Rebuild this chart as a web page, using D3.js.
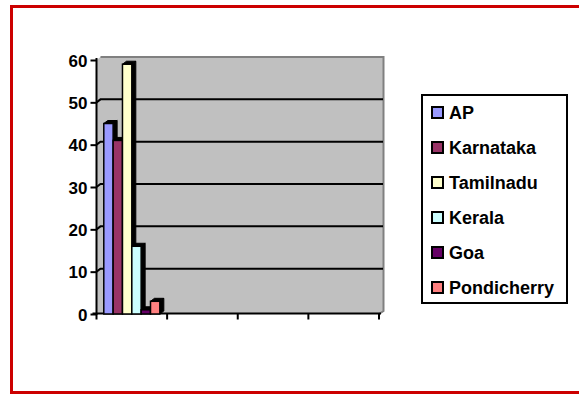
<!DOCTYPE html>
<html>
<head>
<meta charset="utf-8">
<script src="https://cdn.jsdelivr.net/npm/d3@7"></script>
<style>
  html, body { margin: 0; padding: 0; background: #fff; }
  svg { display: block; }
  text { font-family: "Liberation Sans", Arial, sans-serif; font-weight: bold; fill: #000; }
</style>
</head>
<body>
<svg id="chart" width="579" height="394"></svg>
<script>
// Category slots along the x axis (no labels are shown on this axis)
const categories = [1, 2, 3, 4];
// One value per state, all in the first category slot
const series = ["AP", "Karnataka", "Tamilnadu", "Kerala", "Goa", "Pondicherry"];
const values = [45, 41, 59, 16, 1, 3];
const yTicks = [0, 10, 20, 30, 40, 50, 60];
const colors = ["#9999FF", "#993366", "#FFFFCC", "#CCFFFF", "#660066", "#FF8080"];

const svg = d3.select("#chart");
const W = 579, H = 394;

// frame
svg.append("rect")
  .attr("x", 11.5).attr("y", 6.5)
  .attr("width", 600).attr("height", 386)
  .attr("fill", "#fff").attr("stroke", "#CC0000").attr("stroke-width", 3);

// plot geometry (front plane) and 3D depth offset
const x0 = 96.5, x1 = 379, yTop = 60, yBase = 314;
const dx = 4, dy = -3;

const y = d3.scaleLinear().domain([0, 60]).range([yBase, yTop]);
const xCat = d3.scaleBand().domain(categories).range([x0, x1]).padding(0);
const xSer = d3.scaleBand().domain(series).range([0, xCat.bandwidth()])
  .paddingInner(0).paddingOuter(0.78);

// back wall
const wall = svg.append("g");
wall.append("path")
  .attr("d", `M${x0},${yBase} L${x0},${yTop} L${x0 + dx},${yTop + dy} L${x1 + dx + 0.5},${yTop + dy} L${x1 + dx + 0.5},${yBase + dy} L${x1},${yBase} Z`)
  .attr("fill", "#C0C0C0");
wall.append("path")
  .attr("d", `M${x0 + dx},${yTop + dy} L${x1 + dx + 0.5},${yTop + dy} L${x1 + dx + 0.5},${yBase + dy} L${x1},${yBase}`)
  .attr("fill", "none").attr("stroke", "#808080").attr("stroke-width", 2);

// gridlines on the wall
svg.append("g").selectAll("path")
  .data(yTicks.filter(t => t > 0 && t < 60))
  .join("path")
  .attr("d", t => `M${x0},${y(t)} L${x0 + dx},${y(t) + dy} L${x1 + dx},${y(t) + dy}`)
  .attr("fill", "none").attr("stroke", "#000").attr("stroke-width", 2);

// y axis
const yAxis = d3.axisLeft(y).tickValues(yTicks).tickSize(6).tickPadding(3);
const gy = svg.append("g").attr("transform", `translate(${x0},0)`).call(yAxis);
gy.select(".domain").attr("stroke", "#000").attr("stroke-width", 2)
  .attr("d", `M0,${yTop - 2}V${yBase + 1}`);
gy.selectAll(".tick line").attr("stroke", "#000").attr("stroke-width", 2);
gy.selectAll(".tick text")
  .attr("font-size", 17)
  .attr("font-family", "'Liberation Sans', Arial, sans-serif")
  .attr("font-weight", "bold")
  .attr("dy", "0.36em");

// x axis: tick marks at category boundaries
const gx = svg.append("g").attr("transform", `translate(0,${yBase - 0.5})`);
gx.append("line").attr("x1", x0 - 4).attr("x2", x1 + 2)
  .attr("stroke", "#000").attr("stroke-width", 2);
const bounds = categories.map(c => xCat(c)).concat([xCat(categories[categories.length - 1]) + xCat.bandwidth()]);
gx.selectAll(".tk").data(bounds).join("line")
  .attr("class", "tk")
  .attr("x1", d => d).attr("x2", d => d)
  .attr("y1", 0).attr("y2", 6)
  .attr("stroke", "#000").attr("stroke-width", 2);

// bars with top and side faces
const bars = svg.append("g").selectAll("g")
  .data(series.map((s, i) => ({ s, v: values[i], c: colors[i] })))
  .join("g");

bars.each(function (d) {
  const g = d3.select(this);
  const bx = xCat(categories[0]) + xSer(d.s);
  const bw = xSer.bandwidth();
  const by = y(d.v);
  // side face
  g.append("path")
    .attr("d", `M${bx + bw},${by} L${bx + bw + dx},${by + dy} L${bx + bw + dx},${yBase + dy} L${bx + bw},${yBase} Z`)
    .attr("fill", "#000").attr("stroke", "#000").attr("stroke-width", 1);
  // top face
  g.append("path")
    .attr("d", `M${bx},${by} L${bx + dx},${by + dy} L${bx + bw + dx},${by + dy} L${bx + bw},${by} Z`)
    .attr("fill", "#000").attr("stroke", "#000").attr("stroke-width", 1);
  // front face
  g.append("rect")
    .attr("x", bx).attr("y", by)
    .attr("width", bw).attr("height", yBase - by)
    .attr("fill", d.c).attr("stroke", "#000").attr("stroke-width", 1.5);
});

// legend
const lg = svg.append("g");
lg.append("rect")
  .attr("x", 422).attr("y", 95).attr("width", 145).attr("height", 208)
  .attr("fill", "#fff").attr("stroke", "#000").attr("stroke-width", 2);
const items = lg.selectAll(".item")
  .data(series.map((s, i) => ({ s, c: colors[i] })))
  .join("g").attr("class", "item")
  .attr("transform", (d, i) => `translate(0,${113 + i * 35})`);
items.append("rect")
  .attr("x", 432).attr("y", -6).attr("width", 11).attr("height", 11)
  .attr("fill", d => d.c).attr("stroke", "#000").attr("stroke-width", 2);
items.append("text")
  .attr("x", 449).attr("y", 0).attr("dy", "0.36em")
  .attr("font-size", 18)
  .text(d => d.s);
</script>
</body>
</html>
